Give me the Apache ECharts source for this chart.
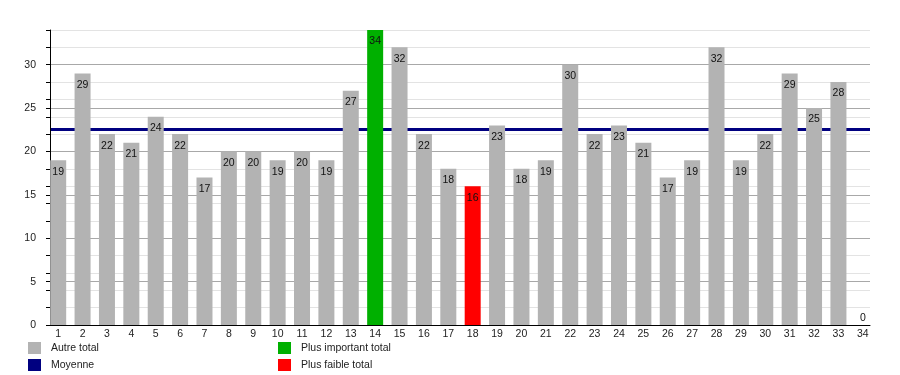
<!DOCTYPE html>
<html>
<head>
<meta charset="utf-8">
<script src="https://cdn.jsdelivr.net/npm/echarts@6/dist/echarts.min.js"></script>
<style>
html,body{margin:0;padding:0;background:#fff;}
#c{width:900px;height:375px;}
</style>
</head>
<body>
<div id="c"></div>
<script>
const categories = ['1','2','3','4','5','6','7','8','9','10','11','12','13','14','15','16','17','18','19','20','21','22','23','24','25','26','27','28','29','30','31','32','33','34'];
const totals = [19,29,22,21,24,22,17,20,20,19,20,19,27,34,32,22,18,16,23,18,19,30,22,23,21,17,19,32,19,22,29,25,28,0];
const meanValue = 22.6;
const highestIndex = 13;
const lowestIndex = 17;
const seriesNames = ['Autre total', 'Moyenne', 'Plus important total', 'Plus faible total'];

const FONT = 'Liberation Sans, Arial, sans-serif';
const FS = 10.5;

function item(v) {
  if (v === 0) return { value: v, label: { position: 'top', distance: 1 } };
  return v;
}
const otherData = totals.map((v, i) => (i === highestIndex || i === lowestIndex) ? '-' : item(v));
const highData = totals.map((v, i) => i === highestIndex ? v : '-');
const lowData = totals.map((v, i) => i === lowestIndex ? v : '-');

const barLabel = { show: true, position: 'insideTop', distance: 6, fontSize: FS, color: '#111', fontFamily: FONT };

const chart = echarts.init(document.getElementById('c'), null, { renderer: 'canvas' });
chart.setOption({
  animation: false,
  textStyle: { fontFamily: FONT },
  grid: [
    { left: 46, right: 25, top: 30, bottom: 50 },
    { left: 50, right: 30, top: 30, bottom: 50 }
  ],
  xAxis: [
    { type: 'category', gridIndex: 0, data: categories,
      axisLine: { show: false }, axisTick: { show: false },
      axisLabel: { margin: 4, fontSize: FS, color: '#222', fontFamily: FONT, interval: 0 } },
    { type: 'category', gridIndex: 1, data: categories,
      axisLine: { show: true, lineStyle: { color: '#000', width: 1 } },
      axisTick: { show: false }, axisLabel: { show: false } }
  ],
  yAxis: [
    { type: 'value', gridIndex: 0, min: 0, max: 34, show: false },
    { type: 'value', gridIndex: 1, min: 0, max: 34, interval: 2, position: 'left',
      axisLine: { show: false },
      axisTick: { show: true, length: 4, lineStyle: { color: '#000' } },
      axisLabel: { show: false },
      splitLine: { show: true, showMinLine: false, lineStyle: { color: '#e3e3e3', width: 1 } } },
    { type: 'value', gridIndex: 1, min: 0, max: 34, interval: 5, position: 'left', z: 1,
      axisLine: { show: true, lineStyle: { color: '#000', width: 1 } },
      axisTick: { show: true, length: 4, lineStyle: { color: '#000' } },
      axisLabel: { margin: 14, fontSize: FS, color: '#222', fontFamily: FONT, showMaxLabel: false },
      splitLine: { show: true, showMinLine: false, showMaxLine: false, lineStyle: { color: '#a8a8a8', width: 1 } } }
  ],
  legend: [
    { left: 28, top: 342, orient: 'vertical', padding: 0, itemWidth: 13, itemHeight: 12, itemGap: 5, icon: 'rect',
      data: [seriesNames[0], seriesNames[1]], selectedMode: false,
      textStyle: { fontSize: FS, color: '#222', fontFamily: FONT, padding: [4, 0, 0, 5] } },
    { left: 278, top: 342, orient: 'vertical', padding: 0, itemWidth: 13, itemHeight: 12, itemGap: 5, icon: 'rect',
      data: [seriesNames[2], seriesNames[3]], selectedMode: false,
      textStyle: { fontSize: FS, color: '#222', fontFamily: FONT, padding: [4, 0, 0, 5] } }
  ],
  series: [
    { name: seriesNames[0], type: 'bar', xAxisIndex: 0, yAxisIndex: 0, stack: 'tot', barWidth: 16, z: 3,
      itemStyle: { color: '#b3b3b3' }, label: barLabel, data: otherData },
    { name: seriesNames[2], type: 'bar', xAxisIndex: 0, yAxisIndex: 0, stack: 'tot', barWidth: 16, z: 3,
      itemStyle: { color: '#00b000' }, label: barLabel, data: highData },
    { name: seriesNames[3], type: 'bar', xAxisIndex: 0, yAxisIndex: 0, stack: 'tot', barWidth: 16, z: 3,
      itemStyle: { color: '#ff0000' }, label: barLabel, data: lowData },
    { name: seriesNames[1], type: 'line', xAxisIndex: 1, yAxisIndex: 1, data: [], z: 1,
      color: '#000080', itemStyle: { color: '#000080' }, lineStyle: { color: '#000080' },
      markLine: { silent: true, symbol: 'none', z: 1, label: { show: false },
        lineStyle: { color: '#000080', width: 3, type: 'solid' },
        data: [{ yAxis: meanValue }] } }
  ]
});
</script>
</body>
</html>
